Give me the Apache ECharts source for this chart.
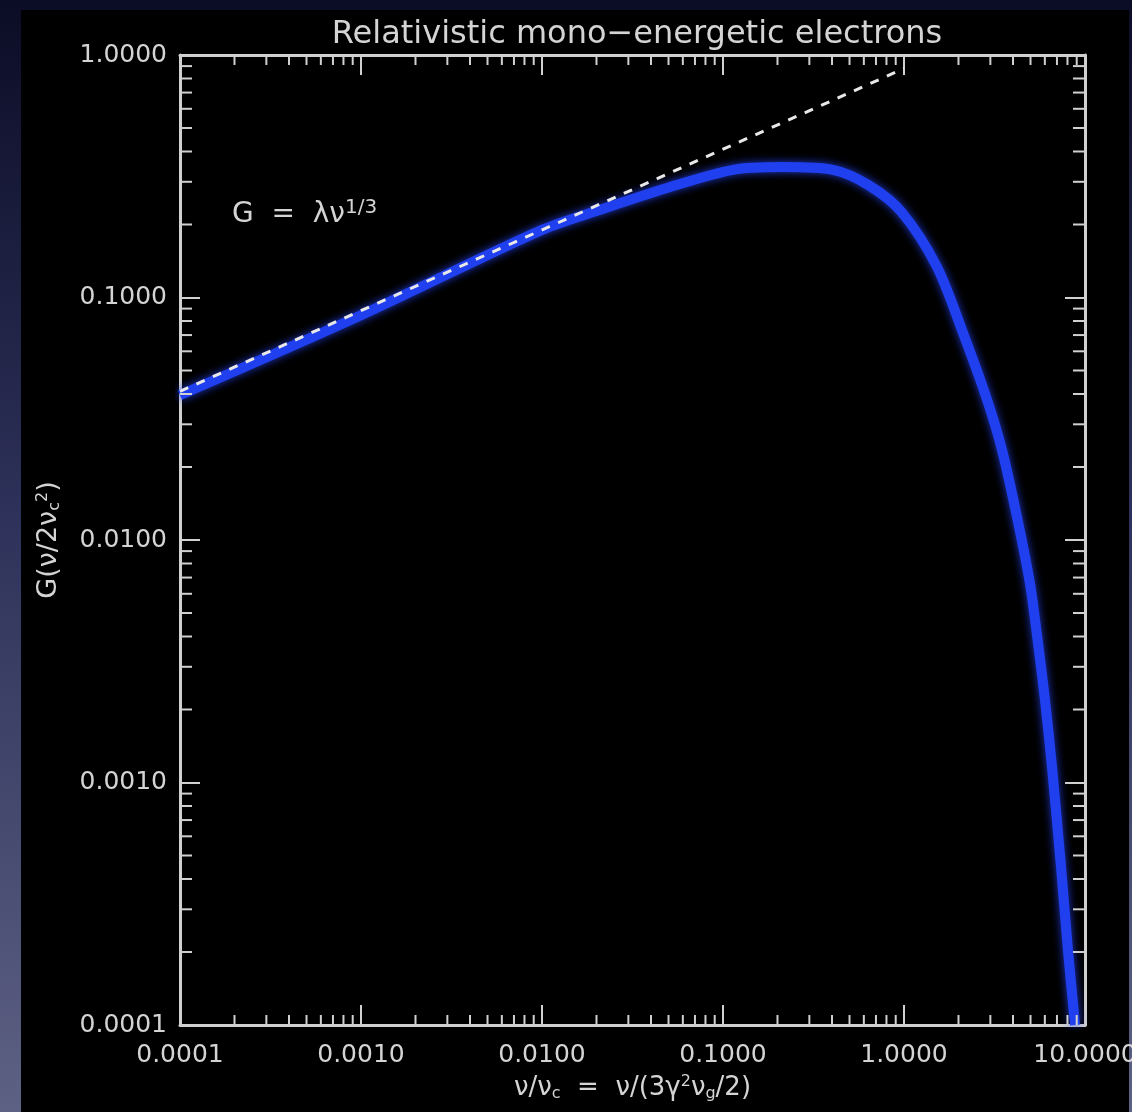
<!DOCTYPE html>
<html>
<head>
<meta charset="utf-8">
<script src="https://cdn.jsdelivr.net/npm/echarts@6.0.0/dist/echarts.min.js"></script>
<style>
html,body{margin:0;padding:0;width:1132px;height:1112px;overflow:hidden;
  background:linear-gradient(to bottom,#0b0d26 0%,#2d3058 45%,#5d6184 100%);}
#frame{position:absolute;left:21px;top:10px;width:1108px;height:1102px;background:#000;}
#main{position:absolute;left:0;top:0;width:1132px;height:1112px;}
</style>
</head>
<body>
<div id="frame"></div>
<div id="main"></div>
<script>
// curve (x = nu/nu_c, y = G)
var curveX=[0.0001,0.001,0.01,0.0209,0.0491,0.1135,0.214,0.405,0.64,0.97,1.52,2.12,2.88,3.48,4.21,4.96,5.50,6.01,6.57,7.37,8.05,8.81];
var curveY=[0.0396,0.0845,0.19,0.230,0.283,0.336,0.345,0.336,0.29,0.225,0.134,0.0714,0.0378,0.0235,0.01245,0.00665,0.00376,0.00219,0.00116,0.000449,0.000204,0.0001];
// power law asymptote, dashed
var dashX=[0.0001,1.0];
var dashY=[0.041,0.88];
// minor tick positions
var minorMult=[2,3,4,5,6,7,8,9];
var xDecades=[0.0001,0.001,0.01,0.1,1];
var yDecades=[0.0001,0.001,0.01,0.1];

var textCol='#d4d4d4';
var lineCol='#d0d0d0';
var fnt='DejaVu Sans';

function zip(a,b){var r=[];for(var i=0;i<a.length;i++){r.push([a[i],b[i]]);}return r;}
function minors(dec){var r=[];dec.forEach(function(d){minorMult.forEach(function(m){r.push([d*m]);});});return r;}
function fmt(v){return Number(v).toFixed(4);}

var chart=echarts.init(document.getElementById('main'),null,{renderer:'canvas'});

var axisBase={
	type:'log',logBase:10,
	axisLine:{show:true,lineStyle:{color:lineCol,width:3}},
	axisTick:{show:true,inside:true,length:20,lineStyle:{color:lineCol,width:2}},
	splitLine:{show:false},
	minorTick:{show:false},
	axisLabel:{show:true,color:textCol,fontFamily:fnt,fontSize:25,formatter:fmt,hideOverlap:false}
};
function ax(extra){return echarts.util.merge(echarts.util.clone(axisBase),extra,true);}

var subSup=function(sz){
	return {
		sub:{fontSize:sz,verticalAlign:'bottom',color:textCol,fontFamily:fnt,padding:[12,0,0,0]},
		sup:{fontSize:sz,verticalAlign:'top',color:textCol,fontFamily:fnt,padding:[0,0,12,0]}
	};
};

var option={
	backgroundColor:'transparent',
	animation:false,
	title:{
		text:'Relativistic mono\u2212energetic electrons',
		left:632,top:14,textAlign:'center',
		textStyle:{color:textCol,fontFamily:fnt,fontSize:32,fontWeight:'normal'}
	},
	grid:{left:180,top:55,width:905,height:970,containLabel:false,outerBoundsMode:'none'},
	xAxis:[
		ax({min:0.0001,max:10,splitNumber:5,position:'bottom',
			axisLabel:{margin:18},
			name:'ν/ν{sub|c}  =  ν/(3γ{sup|2}ν{sub|g}/2)',
			nameLocation:'middle',nameGap:49,
			nameTextStyle:{color:textCol,fontFamily:fnt,fontSize:26,rich:subSup(16)}
		}),
		ax({min:0.0001,max:10,splitNumber:5,position:'top',axisLabel:{show:false}})
	],
	yAxis:[
		ax({min:0.0001,max:1,splitNumber:4,position:'left',
			axisLabel:{margin:13},
			name:'G(ν/2ν{sub|c}{sup|2})',
			nameLocation:'middle',nameGap:117,nameRotate:90,
			nameTextStyle:{color:textCol,fontFamily:fnt,fontSize:27,rich:subSup(16)}
		}),
		ax({min:0.0001,max:1,splitNumber:4,position:'right',axisLabel:{show:false}})
	],
	graphic:[{
		type:'text',left:232,top:198,
		style:{
			text:'G  =  λν{sup|1/3}',
			fill:textCol,font:'28px "DejaVu Sans"',
			rich:{sup:{fontSize:20,fill:textCol,fontFamily:fnt,verticalAlign:'top',padding:[0,0,14,0]}}
		}
	}],
	series:[
		{
			name:'G',type:'line',xAxisIndex:0,yAxisIndex:0,
			data:zip(curveX,curveY),showSymbol:false,smooth:0.3,
			lineStyle:{color:'#2040f0',width:10,shadowColor:'rgba(40,70,255,0.8)',shadowBlur:8},
			z:3
		},
		{
			name:'asym',type:'line',xAxisIndex:0,yAxisIndex:0,
			data:zip(dashX,dashY),showSymbol:false,
			lineStyle:{color:'#e8e8e8',width:3,type:[9,9]},
			z:4
		},
		{
			// minor ticks on bottom and top
			type:'custom',xAxisIndex:0,yAxisIndex:0,clip:false,silent:true,
			data:minors(xDecades),
			renderItem:function(params,api){
				var b=api.coord([api.value(0),0.0001]);
				var t=api.coord([api.value(0),1]);
				var st={stroke:lineCol,lineWidth:2};
				return {type:'group',children:[
					{type:'line',shape:{x1:b[0],y1:b[1],x2:b[0],y2:b[1]-10},style:st},
					{type:'line',shape:{x1:t[0],y1:t[1],x2:t[0],y2:t[1]+10},style:st}
				]};
			},
			z:5
		},
		{
			// minor ticks on left and right
			type:'custom',xAxisIndex:0,yAxisIndex:0,clip:false,silent:true,
			data:minors(yDecades).map(function(d){return [0.0001,d[0]];}),
			renderItem:function(params,api){
				var l=api.coord([0.0001,api.value(1)]);
				var r=api.coord([10,api.value(1)]);
				var st={stroke:lineCol,lineWidth:2};
				return {type:'group',children:[
					{type:'line',shape:{x1:l[0],y1:l[1],x2:l[0]+12,y2:l[1]},style:st},
					{type:'line',shape:{x1:r[0],y1:r[1],x2:r[0]-12,y2:r[1]},style:st}
				]};
			},
			z:5
		}
	]
};
chart.setOption(option);
</script>
</body>
</html>
